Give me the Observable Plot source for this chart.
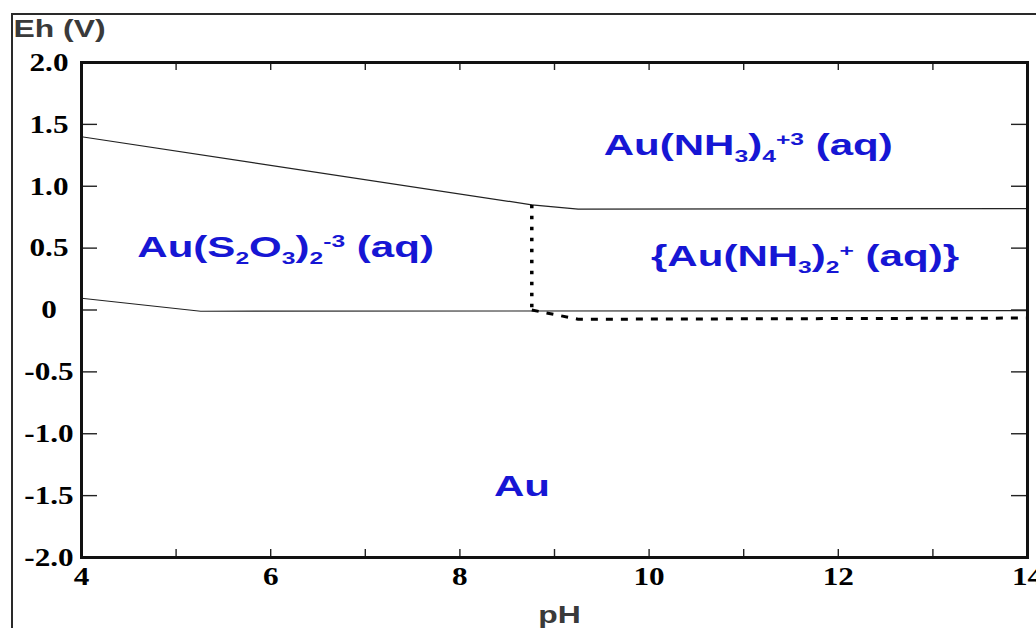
<!DOCTYPE html>
<html>
<head>
<meta charset="utf-8">
<script src="https://cdn.jsdelivr.net/npm/d3@7"></script>
<script src="https://cdn.jsdelivr.net/npm/@observablehq/plot@0.6"></script>
<style>
html, body { margin: 0; padding: 0; background: #fff; overflow: hidden; }
#chart { position: relative; width: 1036px; height: 628px; overflow: hidden; }
#chart::before { content: ""; position: absolute; left: 11px; top: 13px; width: 2000px; height: 2000px;
  border: 2px solid #2a2a2a; box-sizing: border-box; pointer-events: none; }
</style>
</head>
<body>
<div id="chart"></div>
<script>
// ---- Data ----
const xTicks = [4, 5, 6, 7, 8, 9, 10, 11, 12, 13, 14];
const xLabelValues = [4, 6, 8, 10, 12, 14];
const xTickLabels = ["4", "6", "8", "10", "12", "14"];
const yTicks = [2, 1.5, 1, 0.5, 0, -0.5, -1, -1.5, -2];
const yTickLabels = ["2.0", "1.5", "1.0", "0.5", "0", "-0.5", "-1.0", "-1.5", "-2.0"];

// boundary lines (pH, Eh)
const upperPH = [4, 8.76, 9.25, 14];
const upperEh = [1.40, 0.85, 0.815, 0.82];
const lowerPH = [4, 5.26, 14];
const lowerEh = [0.095, -0.01, -0.005];
const dottedPH = [8.76, 8.76];
const dottedEh = [0.85, 0.0];
const dashedPH = [8.76, 9.25, 14];
const dashedEh = [0.0, -0.075, -0.065];

// region labels (markup: _x subscript, ^xx superscript)
const regionLabels = ["Au(NH_3)_4^+3 (aq)", "Au(S_2O_3)_2^-3 (aq)", "{Au(NH_3)_2^+ (aq)}", "Au"];
const regionPH = [9.52, 4.59, 10.02, 8.36];
const regionEh = [1.33, 0.505, 0.43, -1.43];

const xTitle = "pH";
const yTitle = "Eh (V)";

// ---- Build tables ----
const toRows = (xs, ys) => xs.map((x, i) => ({pH: x, Eh: ys[i]}));
const upper = toRows(upperPH, upperEh);
const lower = toRows(lowerPH, lowerEh);
const dotted = toRows(dottedPH, dottedEh);
const dashed = toRows(dashedPH, dashedEh);
const regions = regionLabels.map((t, i) => ({t, pH: regionPH[i], Eh: regionEh[i]}));

const W = 1036, H = 628, mL = 81, mR = 9, mT = 62, mB = 71;
const fw = W - mL - mR, fh = H - mT - mB;
const serif = "Liberation Serif, Times New Roman, serif";
const sans = "Liberation Sans, Arial, sans-serif";
const plain = s => s.replace(/_(\S)/g, "$1").replace(/\^(\S+)/g, "$1");

const chart = Plot.plot({
  width: W, height: H,
  marginLeft: mL, marginRight: mR, marginTop: mT, marginBottom: mB,
  x: {domain: [4, 14], axis: null},
  y: {domain: [-2, 2], axis: null},
  style: {background: "transparent"},
  marks: [
    // tick marks (inward)
    Plot.ruleY(yTicks, {y: d => d, insetRight: fw - 16, stroke: "#222", strokeWidth: 1.4}),
    Plot.ruleY(yTicks, {y: d => d, insetLeft: fw - 16, stroke: "#222", strokeWidth: 1.4}),
    Plot.ruleX(xTicks, {x: d => d, insetBottom: fh - 8, stroke: "#222", strokeWidth: 1.4}),
    Plot.ruleX(xTicks, {x: d => d, insetTop: fh - 8, stroke: "#222", strokeWidth: 1.4}),
    // boundaries
    Plot.line(upper, {x: "pH", y: "Eh", stroke: "#222", strokeWidth: 1.2}),
    Plot.line(lower, {x: "pH", y: "Eh", stroke: "#222", strokeWidth: 1.2}),
    Plot.line(dotted, {x: "pH", y: "Eh", stroke: "#000", strokeWidth: 3.5, strokeDasharray: "3.5,7.5", strokeLinecap: "butt"}),
    Plot.line(dashed, {x: "pH", y: "Eh", stroke: "#000", strokeWidth: 3, strokeDasharray: "7,8", strokeLinecap: "butt"}),
    Plot.frame({stroke: "#111", strokeWidth: 3}),
    // tick labels
    Plot.text(xLabelValues, {x: d => d, frameAnchor: "bottom", dy: 27,
      text: (d, i) => xTickLabels[i], fontFamily: serif, fontWeight: "bold", fontSize: 26, fill: "#000", className: "tick-label"}),
    Plot.text(yTicks, {y: d => d, frameAnchor: "left", dx: -32.5, textAnchor: "middle",
      text: (d, i) => yTickLabels[i], fontFamily: serif, fontWeight: "bold", fontSize: 26, fill: "#000", className: "tick-label"}),
    // axis titles
    Plot.text([yTitle], {frameAnchor: "top-left", dx: -68, dy: -43, textAnchor: "start",
      fontFamily: sans, fontWeight: "bold", fontSize: 24, fill: "#3a3a3a", className: "axis-title"}),
    Plot.text([xTitle], {frameAnchor: "bottom", dx: 5, dy: 65,
      fontFamily: sans, fontWeight: "bold", fontSize: 24, fill: "#3a3a3a", className: "axis-title"}),
    // region labels
    Plot.text(regions, {x: "pH", y: "Eh", text: d => plain(d.t), textAnchor: "start",
      fontFamily: sans, fontWeight: "bold", fontSize: 29, fill: "#1616d4", className: "region-label"})
  ]
});

document.getElementById("chart").appendChild(chart);

// rich text for sub/superscripts
const labelNodes = chart.querySelectorAll(".region-label text");
labelNodes.forEach((node, i) => {
  const src = regions[i].t;
  const re = /_(\S)|\^(\S+)/g;
  const segs = [];
  let last = 0, m;
  while ((m = re.exec(src)) !== null) {
    if (m.index > last) segs.push({s: src.slice(last, m.index), k: 0});
    if (m[1] !== undefined) segs.push({s: m[1], k: -1});
    else segs.push({s: m[2], k: 1});
    last = re.lastIndex;
  }
  if (last < src.length) segs.push({s: src.slice(last), k: 0});
  node.textContent = "";
  let cur = 0;
  segs.forEach(seg => {
    const off = seg.k === -1 ? 7 : seg.k === 1 ? -10 : 0;
    const ts = document.createElementNS("http://www.w3.org/2000/svg", "tspan");
    ts.textContent = seg.s;
    if (seg.k !== 0) ts.setAttribute("font-size", "17");
    if (off - cur !== 0) ts.setAttribute("dy", String(off - cur));
    cur = off;
    node.appendChild(ts);
  });
});

// horizontal stretch of text as in the reference
const stretch = (sel, k) => chart.querySelectorAll(sel).forEach(t => {
  const tr = t.getAttribute("transform") || "";
  t.setAttribute("transform", (tr + ` scale(${k},1)`).trim());
});
stretch(".tick-label text", 1.2);
stretch(".axis-title text", 1.33);
stretch(".region-label text", 1.45);
</script>
</body>
</html>
